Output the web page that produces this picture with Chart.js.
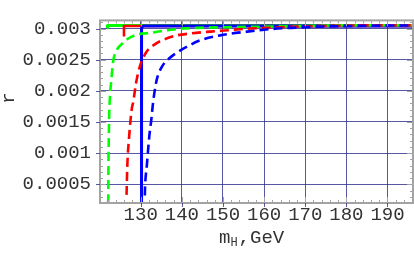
<!DOCTYPE html>
<html><head><meta charset="utf-8">
<script src="https://cdn.jsdelivr.net/npm/chart.js@4/dist/chart.umd.min.js"></script>
<style>html,body{margin:0;padding:0;background:#fff}#wrap{width:414px;height:256px}</style>
</head><body><div id="wrap"><canvas id="c" width="414" height="256"></canvas></div>
<script>
// ---- data ----
const xTicks = [130, 140, 150, 160, 170, 180, 190];
const xTickLabels = ['130', '140', '150', '160', '170', '180', '190'];
const yTicks = [0.0005, 0.001, 0.0015, 0.002, 0.0025, 0.003];
const yTickLabels = ['0.0005', '0.001', '0.0015', '0.002', '0.0025', '0.003'];

const greenDashM = [122.1, 122.15, 122.25, 122.34, 122.5, 122.93, 123.32, 124.15, 125.37, 126.98, 129.0, 132.3, 136.3, 140.4, 143.7, 150, 160, 170, 180, 196.2];
const greenDashR = [0.0002, 0.0008, 0.0013, 0.00163, 0.00188, 0.00223, 0.00248, 0.00265, 0.00275, 0.00284, 0.0029, 0.00293, 0.00297, 0.0030, 0.00301, 0.00302, 0.00303, 0.00304, 0.00305, 0.00305];

const redDashM = [126.55, 126.6, 126.73, 127.2, 127.8, 128.2, 128.85, 129.83, 131.46, 133.5, 135.9, 138.8, 142.0, 146.9, 151.8, 156.7, 162.3, 168, 175, 185, 196.2];
const redDashR = [0.00033, 0.00045, 0.00078, 0.00128, 0.0017, 0.00183, 0.00212, 0.0024, 0.00263, 0.00275, 0.00283, 0.00289, 0.00292, 0.00295, 0.002975, 0.0030, 0.003015, 0.00303, 0.00304, 0.00305, 0.00305];

const blueDashM = [131.0, 131.05, 131.46, 132.1, 132.6, 132.9, 133.24, 133.9, 135.1, 137.1, 139.2, 141.6, 144.0, 149.3, 155.9, 161.5, 168, 173, 181, 196.2];
const blueDashR = [0.00032, 0.00045, 0.00078, 0.00128, 0.00155, 0.00175, 0.00193, 0.00218, 0.00238, 0.00253, 0.00263, 0.00272, 0.0028, 0.00289, 0.00295, 0.00299, 0.003015, 0.00303, 0.00304, 0.00305];

const greenSolidM = [121.85, 121.9, 196.2];
const greenSolidR = [0.00301, 0.00305, 0.00305];
const redSolidM = [125.93, 125.93, 196.2];
const redSolidR = [0.00287, 0.00304, 0.00304];
const blueSolidM = [130.2, 130.2, 130.35, 130.7, 196.2];
const blueSolidR = [0.0002, 0.00299, 0.00303, 0.00304, 0.00304];

const xTitleMain = 'm', xTitleSub = 'H', xTitleRest = ',GeV';
const yTitle = 'r';

// ---- helpers ----
const pts = (ms, rs) => ms.map((m, i) => ({x: m, y: rs[i]}));
const FONT = 'Liberation Mono, Courier New, monospace';
const GRID = 'rgba(45,45,140,0.8)';
const FRAME = '#a3a3a3';
const TEXT = '#333';

const framePlugin = {
  id: 'frame',
  afterDatasetsDraw(chart) {
    const {ctx, chartArea: a, scales: {x, y}} = chart;
    ctx.save();
    ctx.strokeStyle = FRAME;
    ctx.lineWidth = 1;
    for (let v = 122; v <= 196; v += 2) {
      const px = Math.round(x.getPixelForValue(v)) + 0.5;
      const len = (v % 10 === 0) ? 6 : 3;
      ctx.beginPath();
      ctx.moveTo(px, a.bottom); ctx.lineTo(px, a.bottom - len);
      ctx.moveTo(px, a.top); ctx.lineTo(px, a.top + len);
      ctx.stroke();
    }
    for (let k = 3; k <= 31; k++) {
      const v = k * 0.0001;
      const py = Math.round(y.getPixelForValue(v)) + 0.5;
      const len = (k % 5 === 0) ? 6 : 3;
      ctx.beginPath();
      ctx.moveTo(a.left, py); ctx.lineTo(a.left + len, py);
      ctx.moveTo(a.right, py); ctx.lineTo(a.right - len, py);
      ctx.stroke();
    }
    ctx.lineWidth = 2;
    ctx.strokeRect(a.left, a.top, a.right - a.left, a.bottom - a.top);
    ctx.lineWidth = 1;
    ctx.strokeStyle = GRID;
    xTicks.forEach(v => {
      const px = Math.round(x.getPixelForValue(v)) + 0.5;
      ctx.beginPath(); ctx.moveTo(px, a.bottom); ctx.lineTo(px, a.bottom + 4); ctx.stroke();
    });
    yTicks.forEach(v => {
      const py = Math.round(y.getPixelForValue(v)) + 0.5;
      ctx.beginPath(); ctx.moveTo(a.left, py); ctx.lineTo(a.left - 4, py); ctx.stroke();
    });
    ctx.fillStyle = TEXT;
    ctx.textBaseline = 'alphabetic';
    ctx.textAlign = 'left';
    ctx.font = '19px ' + FONT;
    ctx.fillText(xTitleMain, 219, 243);
    const wm = ctx.measureText(xTitleMain).width;
    ctx.font = '12px ' + FONT;
    ctx.fillText(xTitleSub, 219 + wm, 246);
    const ws = ctx.measureText(xTitleSub).width;
    ctx.font = '19px ' + FONT;
    ctx.fillText(xTitleRest, 219 + wm + ws + 1, 243);
    ctx.translate(14, 98);
    ctx.rotate(-Math.PI / 2);
    ctx.textAlign = 'center';
    ctx.fillText(yTitle, 0, 0);
    ctx.restore();
  }
};

const dash = [9, 5];
new Chart(document.getElementById('c'), {
  type: 'line',
  data: {
    datasets: [
      {data: pts(blueDashM, blueDashR), borderColor: '#0000ff', borderWidth: 2.6, borderDash: dash, cubicInterpolationMode: 'monotone', order: 0},
      {data: pts(redDashM, redDashR), borderColor: '#ff0000', borderWidth: 2.6, borderDash: dash, cubicInterpolationMode: 'monotone', order: 1},
      {data: pts(greenDashM, greenDashR), borderColor: '#00ff00', borderWidth: 2.6, borderDash: dash, cubicInterpolationMode: 'monotone', order: 2},
      {data: pts(blueSolidM, blueSolidR), borderColor: '#0000ff', borderWidth: 3, tension: 0, order: 3},
      {data: pts(redSolidM, redSolidR), borderColor: '#ff0000', borderWidth: 2.6, tension: 0, order: 4},
      {data: pts(greenSolidM, greenSolidR), borderColor: '#00ff00', borderWidth: 3, tension: 0, order: 5}
    ]
  },
  options: {
    responsive: false,
    animation: false,
    devicePixelRatio: 1,
    parsing: false,
    elements: {point: {radius: 0}, line: {borderCapStyle: 'butt', borderJoinStyle: 'round'}},
    layout: {padding: {top: 9, right: 1, left: 0, bottom: 0}},
    plugins: {legend: {display: false}, tooltip: {enabled: false}},
    scales: {
      x: {
        type: 'linear', min: 120.1, max: 196.2,
        afterBuildTicks: s => { s.ticks = xTicks.map(v => ({value: v})); },
        afterFit: s => { s.height = 53; },
        ticks: {callback: (v, i) => xTickLabels[i], font: {family: FONT, size: 19}, color: TEXT, padding: 1, maxRotation: 0, autoSkip: false},
        grid: {color: GRID, lineWidth: 1, drawTicks: false},
        border: {display: false}
      },
      y: {
        type: 'linear', min: 0.0002, max: 0.00313,
        afterBuildTicks: s => { s.ticks = yTicks.map(v => ({value: v})); },
        afterFit: s => { s.width = 100; },
        ticks: {callback: (v, i) => yTickLabels[i], font: {family: FONT, size: 19}, color: TEXT, padding: 9, autoSkip: false},
        grid: {color: GRID, lineWidth: 1, drawTicks: false},
        border: {display: false}
      }
    }
  },
  plugins: [framePlugin]
});
</script></body></html>
